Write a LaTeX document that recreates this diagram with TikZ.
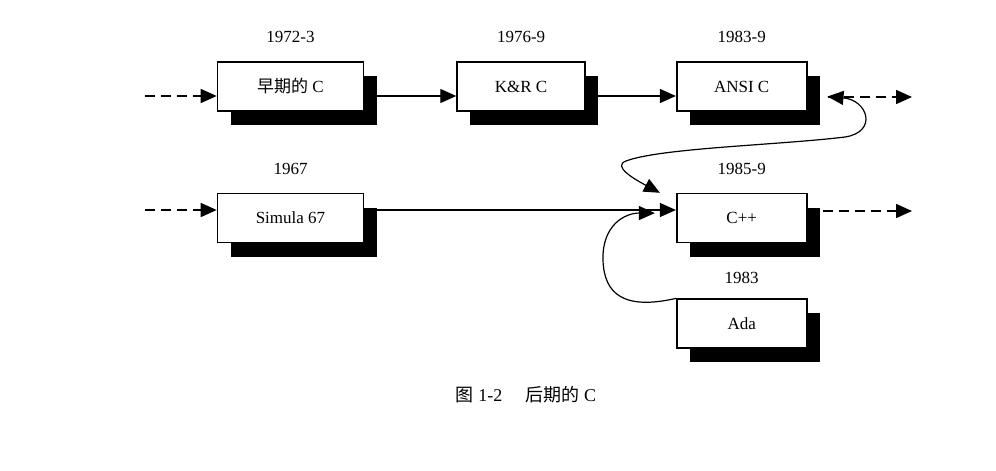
\documentclass[tikz,border=0pt]{standalone}
\usepackage{fontspec}
\setmainfont{Liberation Serif}
\newfontfamily\cjk{Noto Sans CJK SC}
\usepackage{tikz}
\usetikzlibrary{positioning}
\usetikzlibrary{shadows}
\usetikzlibrary{arrows.meta}

\begin{document}
\begin{tikzpicture}[
    x=1pt, y=-1pt,
    node distance=81pt and 92pt,
    >={Triangle[length=16pt,width=14pt]},
    lang/.style={draw,line width=1.6pt,fill=white,inner sep=0pt,minimum height=49pt,minimum width=130pt,
      font=\fontsize{17}{20}\selectfont,
      drop shadow={shadow xshift=13pt,shadow yshift=-14pt,fill=black,opacity=1}},
    year/.style={inner sep=0pt,font=\fontsize{17}{20}\selectfont},
    conn/.style={line width=1.2pt,->},
    dashline/.style={conn,line width=1.6pt,dash pattern=on 10pt off 6pt}
    ]
    \useasboundingbox (0,0) rectangle (996,471);

    \node[lang, minimum width=146pt] (early) at (290.5,86.5) {{\cjk 早期的} C};
    \node[lang, minimum width=128pt, right=of early] (kr) {K\&R C};
    \node[lang, right=90pt of kr] (ansi) {ANSI C};

    \node[lang, minimum width=146pt, below=of early] (simula) {Simula 67};
    \node[lang, below=of ansi] (cpp) {C++};
    \node[lang, below=55pt of cpp] (ada) {Ada};

    \node[year, above=18pt of early] (y1972) {1972-3};
    \node[year, above=18pt of kr] (y1976) {1976-9};
    \node[year, above=18pt of ansi] (y1983ansi) {1983-9};
    \node[year, above=18pt of simula] (y1967) {1967};
    \node[year, above=18pt of cpp] (y1985) {1985-9};
    \node[year, above=15pt of ada] (y1983ada) {1983};

    \node[font=\fontsize{18}{22}\selectfont] (caption) at (526,395) {{\cjk 图} 1-2\hspace{1.3em}{\cjk 后期的} C};

    \coordinate (in1) at (145,96);
    \coordinate (out1) at (912,97);
    \coordinate (in2) at (145,210);
    \coordinate (out2) at (912,211);

    \draw[dashline] (in1) -- (in1 -| early.west);
    \draw[conn] (early.east |- in1) -- (kr.west |- in1);
    \draw[conn] (kr.east |- in1) -- (ansi.west |- in1);
    \draw[dashline, shorten <=20pt] (ansi.east |- out1) -- (out1);

    \draw[dashline] (in2) -- (in2 -| simula.west);
    \draw[conn] (simula.east |- in2) -- (cpp.west |- in2);
    \draw[dashline, shorten <=15pt] (cpp.east |- out2) -- (out2);

    \draw[conn, <->] ([shift={(20pt,-10pt)}]ansi.east)
      .. controls (868,100) and (878,132) .. (845,137)
      .. controls (780,145) and (660,148) .. (626,161)
      .. controls (612,166) and (634,179) .. ([xshift=-16pt]cpp.north west);
    \draw[conn] (ada.north west)
      .. controls (625,310) and (604,295) .. (603,260)
      .. controls (602,225) and (625,213) .. ([shift={(-21pt,5pt)}]cpp.west);

  \end{tikzpicture}
\end{document}
